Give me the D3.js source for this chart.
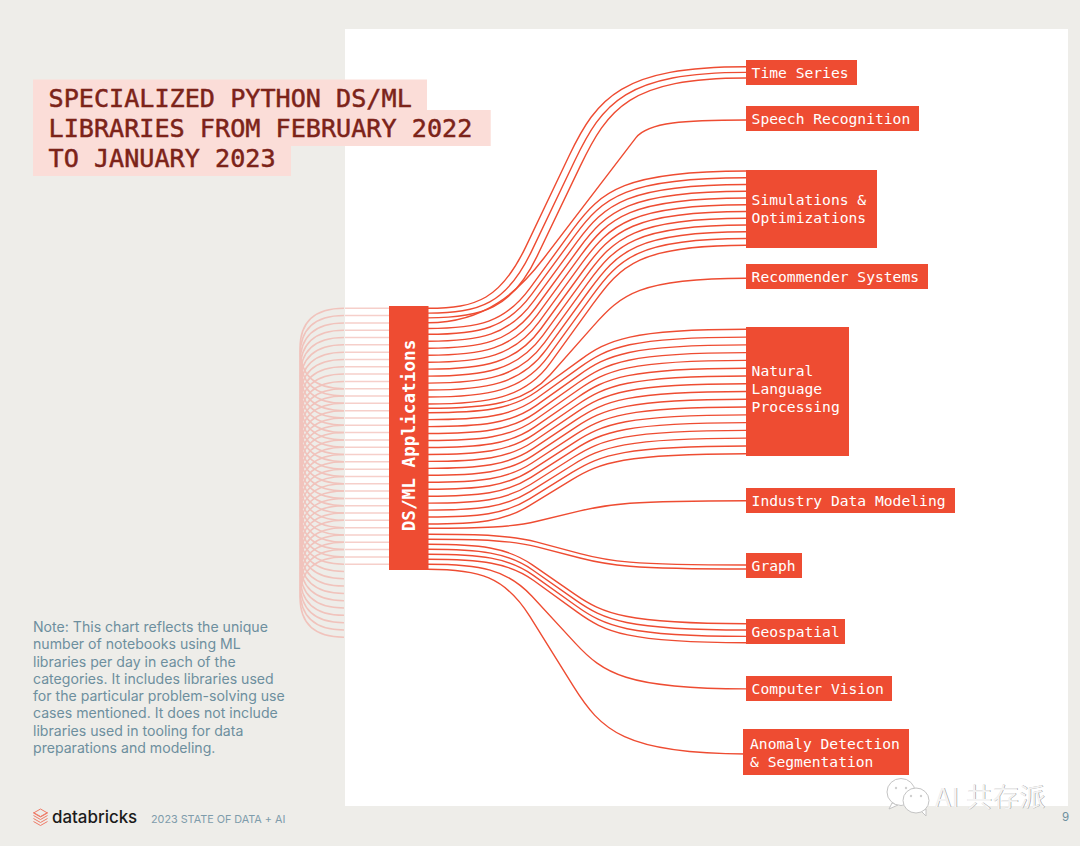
<!DOCTYPE html>
<html><head><meta charset="utf-8">
<script src="https://cdn.jsdelivr.net/npm/d3@7"></script>
<style>html,body{margin:0;padding:0;background:#eeede9}svg{display:block}</style>
</head><body><svg id="c" width="1080" height="846"></svg>
<script>
// ---------- data ----------
const categories = ["Time Series","Speech Recognition","Simulations & Optimizations","Recommender Systems","Natural Language Processing","Industry Data Modeling","Graph","Geospatial","Computer Vision","Anomaly Detection & Segmentation"];
const libraryCounts = [3,1,12,1,17,1,2,4,1,1];
const labelLines = [["Time Series"],["Speech Recognition"],["Simulations &","Optimizations"],["Recommender Systems"],["Natural","Language","Processing"],["Industry Data Modeling"],["Graph"],["Geospatial"],["Computer Vision"],["Anomaly Detection","& Segmentation"]];
const sourceLabel = "DS/ML Applications";
const inflowLevels = 46;
const titleLines = ["SPECIALIZED PYTHON DS/ML","LIBRARIES FROM FEBRUARY 2022","TO JANUARY 2023"];
const noteLines = ["Note: This chart reflects the unique","number of notebooks using ML","libraries per day in each of the","categories. It includes libraries used","for the particular problem-solving use","cases mentioned. It does not include","libraries used in tooling for data","preparations and modeling."];

// ---------- layout ----------
const RED="#ee4c32", INK="#7c2319", PINK="#fbddd8", SLATE="#6d8f9e";
const MONO="'DejaVu Sans Mono',monospace";
const boxes=[[746,857,60,85],[746,919,106,131],[746,877,170,248],[746,928,264,289],[746,849,327,456],[746,955,488,513],[746,802,553,578],[746,845,619,644],[746,892,676,701],[743,909,729,775]];
const lineTops=[66.7,120,171,278.3,329.3,500.7,565,623.7,688.9,754];
const lineBots=[78,120,245.3,278.3,453.7,500.7,569,642.7,688.9,754];
const bendA=[554,572,558,578,565,565,565,560,560,558];
const bendB=[565,572,578,578,557,565,565,562,560,558];
const slopeRun=[115,155,115,115,115,115,115,115,115,115];
const exitStraight=[15,64,15,15,15,15,15,15,15,15];
const exitHandle=[28,12,28,28,28,28,28,28,28,28];
const exitEase=[.3,.45,.3,.3,.3,.3,.3,.3,.3,.3];
const ySource=d3.scaleLinear().domain([0,3,5,15,16,17,33,34,35,42]).range([308.3,322.7,334.3,404,408.3,412.7,524,528.3,534.3,569.3]);
const yInflow=d3.scaleLinear().domain([0,inflowLevels-1]).range([308.3,637.3]);
const X0=428,X1=746;

const svg=d3.select("#c");
svg.append("rect").attr("width",1080).attr("height",846).attr("fill","#eeede9");

// inflow loops (under the white panel)
const loops=svg.append("g").attr("fill","none").attr("stroke","#f1c3bc").attr("stroke-width",1.5);
const SPAN=11;
d3.range(inflowLevels-SPAN).forEach(i=>{
  const a=yInflow(i),b=yInflow(i+SPAN),m=(a+b)/2,p=d3.path();
  p.moveTo(344,a);
  p.bezierCurveTo(316,a,300,a+12,300,m);
  p.bezierCurveTo(300,b-12,316,b,344,b);
  loops.append("path").attr("d",p.toString());
});
svg.append("rect").attr("x",345).attr("y",29).attr("width",723).attr("height",777).attr("fill","#fff");
const loopsTop=svg.append("g").attr("stroke","#f6cfca").attr("stroke-width",1.5);
d3.range(inflowLevels).filter(i=>yInflow(i)<571).forEach(i=>{
  loopsTop.append("line").attr("x1",345).attr("x2",389).attr("y1",yInflow(i)).attr("y2",yInflow(i));
});

// links
function linkPath(ys,yt,xm,k){
  const xt=X1, xs=X0, ym=(ys+yt)/2, m=(yt-ys)/slopeRun[k], h=28, h2=exitStraight[k], e=exitHandle[k];
  const L1=[xm-h,ym-m*h], L2=[xm+h2,ym+m*h2];
  const p=d3.path();
  p.moveTo(xs,ys);
  p.bezierCurveTo(xs+.5*(L1[0]-xs),ys,L1[0]-25,L1[1]-m*25,L1[0],L1[1]);
  p.lineTo(L2[0],L2[1]);
  p.bezierCurveTo(L2[0]+e,L2[1]+m*e,L2[0]+exitEase[k]*(xt-L2[0]),yt,xt,yt);
  return p.toString();
}
const links=svg.append("g").attr("fill","none").attr("stroke",RED).attr("stroke-width",1.4);
let idx=0;
categories.forEach((c,k)=>{
  const n=libraryCounts[k];
  const yT=d3.scaleLinear().domain([0,Math.max(1,n-1)]).range([lineTops[k],lineBots[k]]);
  const xB=d3.scaleLinear().domain([0,Math.max(1,n-1)]).range([bendA[k],bendB[k]]);
  d3.range(n).forEach(j=>{
    links.append("path").attr("d",linkPath(ySource(idx),yT(j),xB(j),k));
    idx++;
  });
});

// source bar
svg.append("rect").attr("x",389).attr("y",306).attr("width",39.5).attr("height",264).attr("fill",RED);
svg.append("text").attr("transform","translate(414.5,435.5) rotate(-90)").attr("text-anchor","middle")
  .attr("font-family",MONO).attr("font-size",17.7).attr("font-weight",700).attr("fill","#fff").text(sourceLabel);

// category boxes
const labelShift=[0,0,-1,0,-3,0,0,0,0,0];
categories.forEach((c,k)=>{
  const [x0,x1,y0,y1]=boxes[k];
  svg.append("rect").attr("x",x0).attr("y",y0).attr("width",x1-x0).attr("height",y1-y0).attr("fill",RED);
  const lines=labelLines[k], lh=17.8, cy=(y0+y1)/2+labelShift[k];
  lines.forEach((t,i)=>{
    svg.append("text").attr("x",k===9?750:751.6).attr("y",cy+(i-(lines.length-1)/2)*lh+5.6)
      .attr("font-family",MONO).attr("font-size",14.65).attr("fill","#fff").text(t);
  });
});

// title
[[33,427,79.5,110],[33,490.7,110,146],[33,291,146,176]].forEach(r=>{
  svg.append("rect").attr("x",r[0]).attr("y",r[2]).attr("width",r[1]-r[0]).attr("height",r[3]-r[2]).attr("fill",PINK);
});
titleLines.forEach((t,i)=>{
  svg.append("text").attr("x",48.5).attr("y",106.5+i*30.1).attr("font-family",MONO).attr("font-size",25.15)
    .attr("fill",INK).attr("stroke",INK).attr("stroke-width",.5).text(t);
});

// note
noteLines.forEach((t,i)=>{
  svg.append("text").attr("x",33).attr("y",632+i*17.25).attr("font-family","Inter,'Noto Sans',sans-serif").attr("font-size",14.1).attr("fill",SLATE).text(t);
});

// footer logo
const logo=svg.append("g").attr("fill","none").attr("stroke","#ee7a66").attr("stroke-width",1);
[0,3,6,9].forEach(d=>{
  const p=d3.path();
  p.moveTo(33.5,812.5+d);p.lineTo(40.5,816.5+d);p.lineTo(47.5,812.5+d);
  logo.append("path").attr("d",p.toString());
});
const cap=d3.path();cap.moveTo(40.5,809);cap.lineTo(47.5,813);cap.lineTo(40.5,817);cap.lineTo(33.5,813);cap.closePath();
logo.append("path").attr("d",cap.toString());
svg.append("text").attr("x",52).attr("y",822.5).attr("font-family","Inter,sans-serif").attr("font-size",16.9).attr("font-weight",500).attr("fill","#1b1b1b").text("databricks");
svg.append("text").attr("x",151).attr("y",823.3).attr("font-family","Inter,sans-serif").attr("font-size",10.8).attr("fill","#7e9cab").text("2023 STATE OF DATA + AI");
svg.append("text").attr("x",1062).attr("y",821).attr("font-family","Inter,sans-serif").attr("font-size",11.5).attr("fill",SLATE).text("9");

// watermark
const wm=svg.append("g");
[[901,792,14,13.5,[[892,803],[889,809],[898,805]],[[896,788],[906,788]]],
 [916,800.5,13,12.5,[[921,811],[926,816],[926,809]],[[911,796],[921,796]]]].forEach(e=>{
  wm.append("path").attr("d",d3.line()(e[4])+"Z").attr("fill","#fff").attr("stroke","#c4c4c4").attr("stroke-width",1);
  wm.append("ellipse").attr("cx",e[0]).attr("cy",e[1]).attr("rx",e[2]).attr("ry",e[3]).attr("fill","#fff").attr("stroke","#c4c4c4").attr("stroke-width",1);
  e[5].forEach(d=>wm.append("circle").attr("cx",d[0]).attr("cy",d[1]).attr("r",1.2).attr("fill","#cfcfcf"));
});
const wmFont="'Noto Sans CJK SC',sans-serif";
wm.append("text").attr("x",935.5).attr("y",807).attr("font-family",wmFont).attr("font-size",26).attr("letter-spacing",.6).attr("fill","#8d8d8d").text("AI 共存派");
wm.append("text").attr("x",935).attr("y",806.5).attr("font-family",wmFont).attr("font-size",26).attr("letter-spacing",.6).attr("fill","#f4f4f4").text("AI 共存派");
</script></body></html>
